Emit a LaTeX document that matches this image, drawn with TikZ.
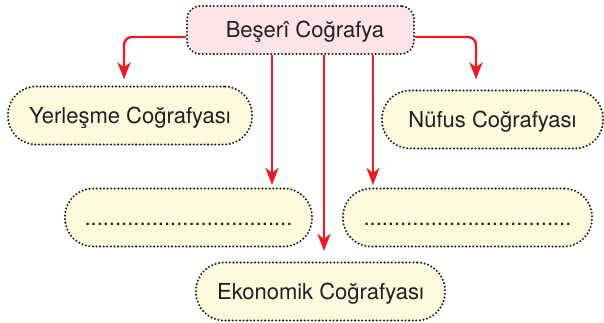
\documentclass[tikz,border=0pt]{standalone}
\usepackage{fontspec}
\setmainfont{TeX Gyre Heros}
\usetikzlibrary{arrows.meta}
\definecolor{arrowred}{RGB}{237,28,36}
\definecolor{topfill}{RGB}{252,228,230}
\definecolor{boxfill}{RGB}{254,250,222}
\definecolor{dotline}{RGB}{35,31,32}
\begin{document}
\begin{tikzpicture}[x=0.5pt,y=-0.5pt,
  topic/.style={draw=dotline, line width=1.15pt, dash pattern=on 0pt off 1.8pt, line cap=round,
    inner sep=0pt, text=dotline, font=\fontsize{11}{13}\selectfont, text height=7.9pt, text depth=0pt},
  mainbox/.style={topic, fill=topfill, rounded corners=6.5pt, minimum width=113.5pt, minimum height=24pt},
  subbox/.style={topic, fill=boxfill, rounded corners=14pt, minimum height=29pt},
  link/.style={draw=arrowred, line width=1.2pt, rounded corners=4pt,
    -{Stealth[length=8.5pt,width=6.5pt,inset=2.5pt]}}]
\useasboundingbox (0,0) rectangle (604,322);

\node[mainbox] (beseri) at (300.5,30) {\hspace{4.5pt}Beşerî Coğrafya};
\node[subbox, minimum width=122pt] (yerlesme) at (130,115.5) {Yerleşme Coğrafyası\hspace{4pt}};
\node[subbox, minimum width=110.5pt] (nufus) at (492.5,119.5) {Nüfus Coğrafyası\hspace{6.5pt}};
\node[subbox, minimum width=123.5pt] (bosA) at (188.5,217.5) {..................................\hspace{6pt}};
\node[subbox, minimum width=124.5pt] (bosB) at (467.5,217.5) {..................................\hspace{6pt}};
\node[subbox, minimum width=124.5pt] (ekonomik) at (320.5,291.5) {Ekonomik Coğrafyası\hspace{3.5pt}};

% side branches
\draw[link, shorten >=3pt] ([yshift=-3.5pt]beseri.west) -| ([xshift=-3pt]yerlesme.north);
\draw[link, shorten >=5pt] ([yshift=-3.5pt]beseri.east) -| ([xshift=-8.25pt]nufus.north);

% straight branches
\coordinate (a1) at ([xshift=-14.25pt]beseri.south);
\coordinate (a2) at ([xshift=11.75pt]beseri.south);
\coordinate (a3) at ([xshift=36.25pt]beseri.south);
\draw[link, shorten >=1.2pt] (a1) -- (a1 |- bosA.north);
\draw[link, shorten >=5.2pt] (a2) -- (a2 |- ekonomik.north);
\draw[link, shorten >=1.2pt] (a3) -- (a3 |- bosB.north);
\end{tikzpicture}
\end{document}
